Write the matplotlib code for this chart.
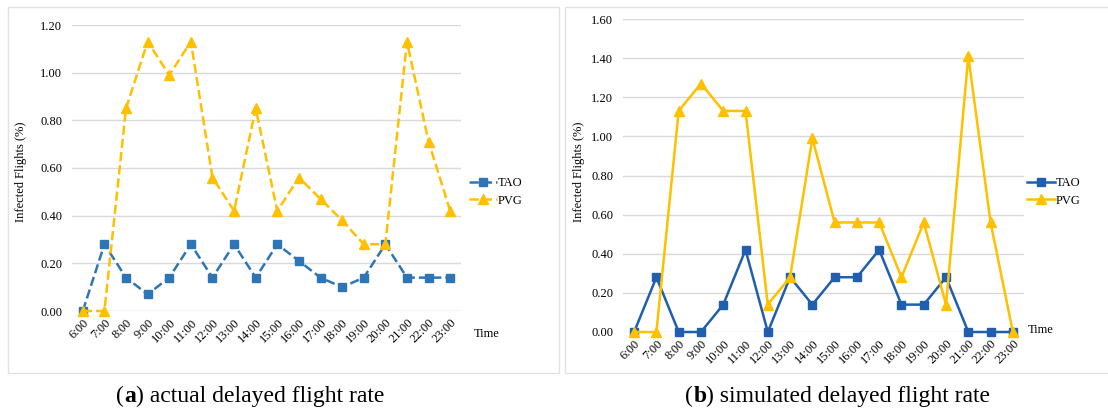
import numpy as np
import matplotlib
matplotlib.use("Agg")
import matplotlib.pyplot as plt
from matplotlib.patches import Rectangle

hours = ["6:00", "7:00", "8:00", "9:00", "10:00", "11:00", "12:00", "13:00", "14:00",
         "15:00", "16:00", "17:00", "18:00", "19:00", "20:00", "21:00", "22:00", "23:00"]

# (a) actual delayed flight rate
tao_actual = [0.00, 0.28, 0.14, 0.07, 0.14, 0.28, 0.14, 0.28, 0.14,
              0.28, 0.21, 0.14, 0.10, 0.14, 0.28, 0.14, 0.14, 0.14]
pvg_actual = [0.00, 0.00, 0.85, 1.13, 0.99, 1.13, 0.56, 0.42, 0.85,
              0.42, 0.56, 0.47, 0.38, 0.28, 0.28, 1.13, 0.71, 0.42]

# (b) simulated delayed flight rate
tao_sim = [0.00, 0.28, 0.00, 0.00, 0.14, 0.42, 0.00, 0.28, 0.14,
           0.28, 0.28, 0.42, 0.14, 0.14, 0.28, 0.00, 0.00, 0.00]
pvg_sim = [0.00, 0.00, 1.13, 1.27, 1.13, 1.13, 0.14, 0.28, 0.99,
           0.56, 0.56, 0.56, 0.28, 0.56, 0.14, 1.41, 0.56, 0.00]

yticks_a = [0.0, 0.2, 0.4, 0.6, 0.8, 1.0, 1.2]
yticks_b = [0.0, 0.2, 0.4, 0.6, 0.8, 1.0, 1.2, 1.4, 1.6]

W, H = 1108, 412
BLUE_A = "#2E75B6"
BLUE_B = "#1F5FAD"
GOLD = "#FFC000"
SERIF = ["Liberation Serif", "DejaVu Serif"]

fig = plt.figure(figsize=(W / 100, H / 100), dpi=100)
fig.patch.set_facecolor("white")

# panel frames
for x0, x1 in [(8, 559), (565, 1120)]:
    fig.patches.append(Rectangle((x0 / W, 1 - 373 / H), (x1 - x0) / W, (373 - 7) / H,
                                 transform=fig.transFigure, fill=False,
                                 edgecolor="#e2e2e2", linewidth=1))


def panel(rect, tao, pvg, yticks, ls, blue, leg_xy, time_xy, ylab_x):
    ax = fig.add_axes(rect)
    x = np.arange(len(hours))
    ax.plot(x, tao, linestyle=ls, color=blue, marker="s", markersize=5.5,
            linewidth=1.8, label="TAO", clip_on=False, zorder=3)
    ax.plot(x, pvg, linestyle=ls, color=GOLD, marker="^", markersize=6.5,
            linewidth=1.8, label="PVG", clip_on=False, zorder=3)
    ax.set_xlim(-0.5, len(hours) - 0.5)
    ax.set_ylim(yticks[0], yticks[-1])
    ax.set_yticks(yticks)
    ax.set_yticklabels(["%.2f" % v for v in yticks], fontsize=9, family=SERIF)
    ax.set_xticks(x)
    ax.set_xticklabels(hours, rotation=45, ha="right", rotation_mode="anchor",
                       fontsize=9, family=SERIF)
    ax.tick_params(length=0, pad=7)
    ax.tick_params(axis="x", pad=4)
    ax.grid(axis="y", color="#d9d9d9", linewidth=1)
    ax.set_axisbelow(True)
    for s in ax.spines.values():
        s.set_visible(False)
    ax.set_ylabel("Infected Flights (%)", fontsize=9, family=SERIF)
    ax.yaxis.set_label_coords(ylab_x, 1 - 172 / H, transform=fig.transFigure)
    ax.legend(loc="center left", bbox_to_anchor=(leg_xy[0] / W, 1 - leg_xy[1] / H),
              bbox_transform=fig.transFigure, frameon=False, handlelength=2.2,
              handletextpad=0.1, labelspacing=0.45, borderaxespad=0,
              prop={"family": SERIF, "size": 9})
    fig.text(time_xy[0] / W, 1 - time_xy[1] / H, "Time", fontsize=9,
             family=SERIF, ha="left", va="center")
    return ax


panel([72 / W, 1 - 311 / H, 389 / W, 286 / H], tao_actual, pvg_actual, yticks_a,
      "--", BLUE_A, (464, 192), (474, 334), 27 / W)
panel([623 / W, 1 - 332 / H, 401 / W, 313 / H], tao_sim, pvg_sim, yticks_b,
      "-", BLUE_B, (1022, 192), (1028, 330), 585 / W)


def caption(xc, letter, rest):
    # "(" + bold letter + ") rest", centred on xc
    r = fig.canvas.get_renderer()
    parts = [("(", "normal"), (letter, "bold"), (") " + rest, "normal")]
    texts = [fig.text(0, 1 - 396 / H, s, fontsize=17, family=SERIF, weight=w,
                      ha="left", va="center") for s, w in parts]
    widths = [t.get_window_extent(r).width for t in texts]
    x = xc - sum(widths) / 2
    for t, w in zip(texts, widths):
        t.set_x(x / W)
        x += w


caption(250, "a", "actual delayed flight rate")
caption(838, "b", "simulated delayed flight rate")

fig.savefig("out.png", dpi=100)
